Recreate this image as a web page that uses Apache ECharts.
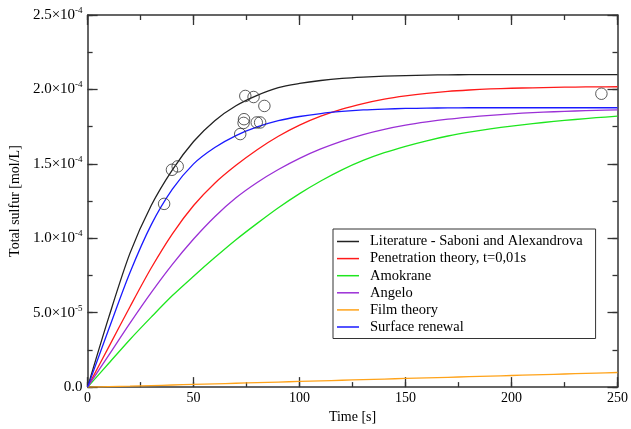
<!DOCTYPE html>
<html>
<head>
<meta charset="utf-8">
<script src="https://cdn.jsdelivr.net/npm/echarts@6/dist/echarts.min.js"></script>
<style>
  html, body { margin: 0; padding: 0; background: #fff; }
  #chart { width: 631px; height: 429px; }
</style>
</head>
<body>
<div id="chart"></div>
<script>
// time [s] vs total sulfur, values in units of 1e-4 mol/L, read every 10 s
var times = [0,10,20,30,40,50,60,70,80,90,100,110,120,130,140,150,160,170,180,190,200,210,220,230,240,250];
var literature = [0,0.47,0.9,1.22,1.46,1.65,1.79,1.89,1.96,2.012,2.04,2.06,2.074,2.083,2.089,2.093,2.096,2.098,2.099,2.1,2.1,2.1,2.1,2.1,2.1,2.1];
var penetration = [0,0.27,0.54,0.8,1.03,1.22,1.37,1.49,1.595,1.685,1.76,1.82,1.868,1.905,1.935,1.957,1.974,1.987,1.996,2.003,2.008,2.011,2.014,2.016,2.017,2.018];
var amokrane = [0,0.16,0.32,0.47,0.615,0.745,0.87,0.99,1.1,1.205,1.3,1.385,1.46,1.523,1.575,1.618,1.655,1.687,1.713,1.735,1.754,1.77,1.785,1.798,1.81,1.82];
var angelo = [0,0.215,0.43,0.635,0.825,0.995,1.145,1.272,1.375,1.462,1.537,1.6,1.653,1.697,1.732,1.76,1.782,1.8,1.814,1.826,1.836,1.844,1.85,1.855,1.859,1.862];
var film = [0,0.003,0.006,0.01,0.014,0.018,0.022,0.026,0.03,0.034,0.038,0.042,0.046,0.05,0.054,0.058,0.062,0.066,0.07,0.074,0.078,0.082,0.086,0.09,0.094,0.098];
var renewal = [0,0.39,0.77,1.09,1.33,1.5,1.61,1.69,1.748,1.79,1.818,1.838,1.852,1.862,1.868,1.872,1.874,1.876,1.877,1.877,1.877,1.877,1.877,1.877,1.877,1.877];
var expTime = [36.1,39.8,42.5,72,73.6,73.8,74.4,78.3,79.8,81.4,83.4,242.4];
var expSulfur = [1.231,1.46,1.483,1.7,1.775,1.80,1.956,1.949,1.778,1.778,1.889,1.971];

var names = ['Literature - Saboni and Alexandrova', 'Penetration theory, t=0,01s', 'Amokrane', 'Angelo', 'Film theory', 'Surface renewal'];
var colors = ['#222222', '#ff1a1a', '#1ee61e', '#9b30d6', '#ffa31a', '#1a1aff'];
var curves = [literature, penetration, amokrane, angelo, film, renewal];

function pairs(xs, ys) {
    return ys.map(function (v, i) { return [xs[i], v * 1e-4]; });
}

var font = 'Liberation Serif';
var frame = '#333';

function yLabel(v) {
    if (v === 0) return '{m|0.0}';
    var e = Math.floor(Math.log10(v) + 1e-9);
    var m = v / Math.pow(10, e);
    return '{m|' + m.toFixed(1) + '×10}{e|' + e + '}';
}

// one axis per side for major ticks and one for minor ticks
function xAx(pos, step, len, main) {
    return {
        type: 'value', position: pos, min: 0, max: 250, interval: step,
        name: main ? 'Time [s]' : '',
        nameLocation: 'middle', nameGap: 18,
        nameTextStyle: { fontFamily: font, fontSize: 14, color: '#000' },
        axisLine: { show: len > 6, onZero: false, lineStyle: { color: frame, width: 1.5 } },
        axisTick: { inside: true, length: len, lineStyle: { color: frame, width: 1.3 } },
        axisLabel: { show: !!main, fontFamily: font, fontSize: 14, color: '#000', margin: 4 },
        splitLine: { show: false }
    };
}
function yAx(pos, step, len, main) {
    return {
        type: 'value', position: pos, min: 0, max: 2.5e-4, interval: step,
        name: main ? 'Total sulfur [mol/L]' : '',
        nameLocation: 'middle', nameGap: 64,
        nameTextStyle: { fontFamily: font, fontSize: 14, color: '#000' },
        axisLine: { show: len > 6, onZero: false, lineStyle: { color: frame, width: 1.5 } },
        axisTick: { inside: true, length: len, lineStyle: { color: frame, width: 1.3 } },
        axisLabel: {
            show: !!main, margin: 5, formatter: yLabel,
            rich: {
                m: { fontFamily: font, fontSize: 15, color: '#000' },
                e: { fontFamily: font, fontSize: 9, color: '#000', padding: [0, 0, 9, 0] }
            }
        },
        splitLine: { show: false }
    };
}

var myChart = echarts.init(document.getElementById('chart'));

var series = curves.map(function (c, i) {
    return {
        name: names[i],
        type: 'line',
        data: pairs(times, c),
        showSymbol: false,
        smooth: 0.3,
        lineStyle: { color: colors[i], width: 1.3 },
        itemStyle: { color: colors[i] },
        z: 3
    };
});
series.push({
    name: 'data',
    type: 'scatter',
    data: pairs(expTime, expSulfur),
    symbol: 'circle',
    symbolSize: 11.5,
    itemStyle: { color: 'rgba(0,0,0,0)', borderColor: '#333', borderWidth: 1 },
    z: 4
});

var option = {
    animation: false,
    backgroundColor: '#fff',
    grid: { left: 85, right: 10, top: 15, bottom: 38 },
    legend: {
        data: names,
        orient: 'vertical',
        left: 333,
        top: 229,
        padding: [5, 13, 4, 4],
        itemGap: 2.1,
        itemWidth: 22,
        itemHeight: 1.5,
        icon: 'rect',
        borderColor: '#333',
        borderWidth: 1,
        backgroundColor: '#fff',
        textStyle: { fontFamily: font, fontSize: 14.5, color: '#000', padding: [0, 0, 0, 6] }
    },
    xAxis: [xAx('bottom', 50, 10, true), xAx('bottom', 25, 5), xAx('top', 50, 10), xAx('top', 25, 5)],
    yAxis: [yAx('left', 0.5e-4, 10, true), yAx('left', 0.25e-4, 5), yAx('right', 0.5e-4, 10), yAx('right', 0.25e-4, 5)],
    series: series
};

myChart.setOption(option);
window.addEventListener('resize', function () { myChart.resize(); });
</script>
</body>
</html>
